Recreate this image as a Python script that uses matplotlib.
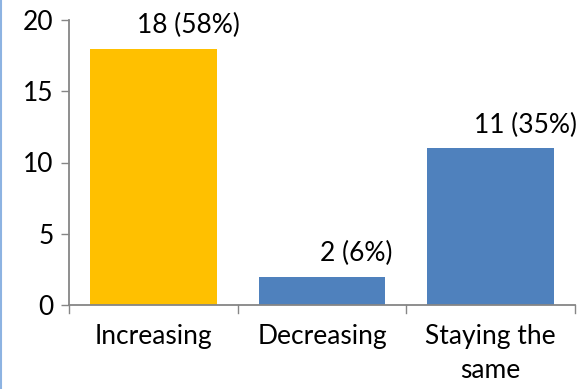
import matplotlib
matplotlib.use("Agg")
import matplotlib.pyplot as plt
from matplotlib.lines import Line2D

categories = ["Increasing", "Decreasing", "Staying the\nsame"]
counts = [18, 2, 11]
labels = ["18 (58%)", "2 (6%)", "11 (35%)"]
colors = ["#FFC000", "#4F81BD", "#4F81BD"]

plt.rcParams["font.family"] = ["Lato", "DejaVu Sans"]
FS = 19

W, H = 582, 389
fig = plt.figure(figsize=(W / 100, H / 100), dpi=100)
ax = fig.add_axes([69 / W, 1 - 305 / H, (575 - 69) / W, (305 - 20) / H])

x = list(range(len(categories)))
ax.bar(x, counts, width=0.75, color=colors, zorder=2)
for xi, v, lab in zip(x, counts, labels):
    ax.annotate(lab, xy=(xi, v), xytext=(25, 11), textcoords="offset points",
                ha="center", va="baseline", fontsize=FS, color="black")

ax.set_xlim(-0.5, len(categories) - 0.5)
ax.set_ylim(0, 20)
ax.set_yticks([0, 5, 10, 15, 20])
ax.set_xticks(x)
ax.set_xticklabels(categories, fontsize=FS, linespacing=1.45)
ax.tick_params(axis="x", length=0, pad=14)
ax.tick_params(axis="y", labelsize=FS, length=6, color="#868686", width=1, pad=5)

for s in ["top", "right"]:
    ax.spines[s].set_visible(False)
for s in ["left", "bottom"]:
    ax.spines[s].set_color("#868686")
    ax.spines[s].set_linewidth(1.3)

# category boundary ticks below the baseline
for b in [-0.5, 0.5, 1.5, 2.5]:
    ax.plot([b, b], [0, -0.55], color="#868686", lw=1, clip_on=False, zorder=3)

# thin frame line on the left edge
fig.add_artist(Line2D([1 / W, 1 / W], [0, 1], color="#8DB3E2", lw=1.5, transform=fig.transFigure))

fig.savefig("out.png", dpi=100)
